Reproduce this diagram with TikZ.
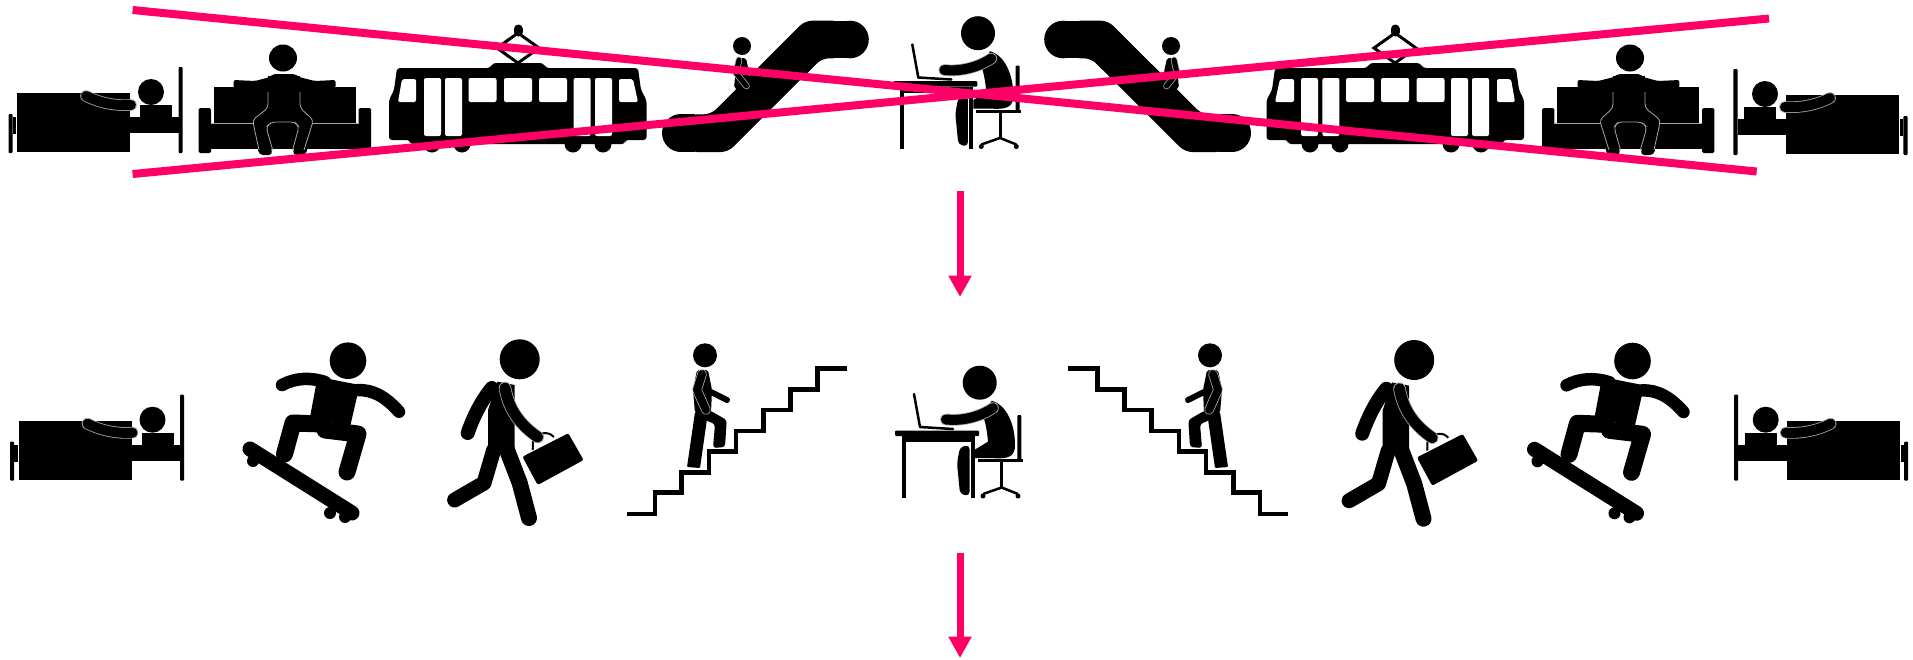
\documentclass[tikz,border=0pt]{standalone}
\usetikzlibrary{arrows.meta}
\definecolor{crosspink}{RGB}{255,0,102}
\tikzset{
	limb/.style={draw=black,line width=#1,line cap=round,line join=round},
	outlined/.style={draw=black!35,line width=0.8pt,double=black,double distance=#1,line cap=round,line join=round},
	seam/.style={draw=black!35,line width=0.8pt,rounded corners=4pt},
	crossline/.style={draw=crosspink,line width=8pt},
	downarrow/.style={draw=crosspink,line width=7pt,-{Triangle[length=21.5pt,width=22pt]}},
	hole/.style={fill=white,draw=none,rounded corners=2pt},
}
\newcommand{\bedshape}{
	\fill (17,93) rectangle (130,152);
	\fill[rounded corners=1pt] (8.5,114) rectangle (12.6,153);
	\fill (12.6,117) rectangle (16,134);
	\fill[rounded corners=1pt] (178.5,67) rectangle (182.7,153);
	\fill (130,117) rectangle (178.5,133);
	\fill (140,105) rectangle (172,117);
	\fill (151,92) circle (13);
	\draw[outlined=10pt] (86,96) .. controls (100,103) and (115,106) .. (131,105);
}
\newcommand{\sofashape}{
	\fill (214,87) rectangle (356,123);
	\fill[rounded corners=1.5pt] (198.6,108) rectangle (211,153);
	\fill[rounded corners=1.5pt] (358.6,108) rectangle (371,153);
	\fill (211,124) rectangle (358.6,149);
	\fill (283,58) ellipse [x radius=14,y radius=13.5];
	\fill[rounded corners=2pt] (233.6,88) -- (233.6,80) -- (255,81) -- (270,77) -- (273,74) -- (295,74) -- (299,77) -- (315,81) -- (335.5,80) -- (335.5,88) -- cycle;
	\fill (268,76) rectangle (300,124);
	\fill[rounded corners=4pt] (268,108) -- (252.5,120) -- (259,155) -- (272.7,155) -- (266,127) -- (271.5,122) -- (295,122) -- (299,127) -- (292.5,155) -- (306,155) -- (313.5,120) -- (300,108) -- cycle;
	\draw[seam] (268,92) -- (268,108) -- (252.5,120) -- (259,150) (272.7,150) -- (266,127) -- (271.5,122) -- (295,122) -- (299,127) -- (292.5,150) (304,150) -- (313.5,120) -- (300,108) -- (300,92);
	\draw[seam] (211,123.5) -- (254,123.5) (312,123.5) -- (358,123.5);
}
\newcommand{\tramshape}{
	\fill[rounded corners=3pt] (389,140) -- (389,100) -- (394,90) -- (397,68) -- (490,68) -- (493,63) -- (543,63) -- (546,68) -- (638,68) -- (641,90) -- (646.5,100) -- (646.5,140) -- (625,140) -- (625,144) -- (410,144) -- (410,140) -- cycle;
	\foreach \wheelx in {432,462,573,603}
		\fill (\wheelx,144) circle (8.5);
	\draw[line width=3pt] (518,33) -- (497,48) -- (518,63) -- (539,48) -- cycle;
	\draw[limb=9pt] (518,29) -- (518,32);
	\fill[hole] (402,79) -- (416,79) -- (416,102) -- (398,102) -- cycle;
	\fill[hole] (619,79) -- (633,79) -- (638,102) -- (619,102) -- cycle;
	\foreach \doorx in {424,445,573.6,595}
		\fill[hole] (\doorx,78) rectangle (\doorx+17,136);
	\foreach \windowx in {468.5,504,539}
		\fill[hole] (\windowx,78) rectangle (\windowx+28,102);
}
\newcommand{\escalatorshape}{
	\fill[rounded corners=7pt] (690,114.3) -- (711,114.3) -- (805,20.7) -- (840,20.7) -- (840,58.3) -- (822,58.3) -- (728,152) -- (690,152) -- cycle;
	\fill (850,39.5) circle (18.8);
	\fill (835,20.7) rectangle (850,58.3);
	\fill (681,133) circle (19);
	\fill (681,114) rectangle (695,152);
	\fill (742,46) circle (9);
	\fill[rounded corners=2pt] (737,58) -- (746,58) -- (749,72) -- (749,86) -- (739,90) -- (734,88) -- cycle;
	\draw[outlined=5pt] (739,60) -- (736,73) -- (746.5,86);
}
\newcommand{\deskshape}{
	\fill[rounded corners=1pt] (895,430.7) rectangle (979,436);
	\fill (902,436) rectangle (975,442);
	\fill (902,442) rectangle (906,498);
	\fill (970.5,442) rectangle (974.5,498);
	\draw[limb=2.5pt] (914,394) -- (920,427) -- (953,429);
	\fill (979.7,382.7) circle (17);
	\fill (991.7,400.7) .. controls (1007,405) and (1015,425) .. (1015,445) .. controls (1015,455) and (1010,458) .. (1000,458.3) -- (975,458) -- (975,449.5) -- (988,441.7) .. controls (987,430) and (985,420) .. (983,416.7) -- cycle;
	\draw[outlined=10pt] (946,419.5) .. controls (960,421) and (978,418) .. (993,408);
	\fill[rounded corners=4pt] (969.5,445) -- (960,447) -- (957,463) -- (960,494) -- (969.5,496) -- cycle;
	\fill[rounded corners=1pt] (1017.3,415) rectangle (1021.3,460);
	\fill (978,459) rectangle (1022.7,462.3);
	\draw[line width=3pt] (1001.7,462) -- (1001.7,487);
	\draw[line width=2.5pt] (983,494) -- (1001.7,487.5) -- (1018,494);
	\fill (983,496) circle (2.5);
	\fill (1018,496) circle (2.5);
}
\newcommand{\stairshape}{
	\draw[line width=4.5pt] (627,514) -| (655,492.7) -| (681.7,472.3) -| (709,451.7) -| (736,431) -| (763.3,410) -| (790.7,389.3) -| (817.7,368.3) -- (846.7,368.3);
	\fill (705,355.3) circle (12);
	\fill[rounded corners=2pt] (697,370) -- (708,370) -- (712,390) -- (711,413) -- (695,413) -- (693,390) -- cycle;
	\draw[limb=6pt] (711,392) -- (727,400);
	\fill[rounded corners=1pt] (695,412) -- (708,412) -- (700,468) -- (687,467) -- cycle;
	\fill[rounded corners=3pt] (704,410) -- (711,411) -- (726.7,420) -- (725,447) -- (713,448) -- (715,424) -- (705,420) -- cycle;
	\draw[outlined=8pt] (702,374) -- (697,390) -- (706,410);
}
\newcommand{\skatershape}{
	\fill (348,360.7) circle (18.3);
	\fill (317.6,376.7) -- (359.7,385) -- (350,427) -- (310,417) -- cycle;
	\draw[limb=12.5pt] (282,385) .. controls (295,378) and (310,377) .. (325,382);
	\draw[limb=12.5pt] (358,390) .. controls (372,390) and (384,395) .. (399,411.7);
	\draw[limb=17pt] (322,424) -- (293,423) -- (284.5,454);
	\draw[limb=17pt] (325,430) -- (358,434) -- (347,472);
	\draw[limb=15pt] (250,449) -- (352,513);
	\fill (253,461) circle (6);
	\fill (330,513) circle (6);
	\fill (345,517) circle (6);
}
\newcommand{\walkershape}{
	\fill (519.7,359.3) circle (20);
	\fill (497.5,381.7) -- (514.7,385) -- (514.5,452) -- (488,452) -- (488,410) -- cycle;
	\draw[limb=14pt] (491.8,388) .. controls (482,400) and (474,415) .. (467.7,433);
	\draw[limb=15pt] (493.7,450) -- (484,483) -- (454.6,500);
	\draw[limb=16pt] (507,450) -- (519.7,483) -- (529,518);
	\draw[line width=2pt] (532.7,450) -- (533,441) .. controls (536,433) and (548,430) .. (553.8,437);
	\fill[rounded corners=2pt] (522.4,456.7) -- (568.3,433.3) -- (583.6,460) -- (537.7,485) -- cycle;
	\draw[outlined=11pt] (505,388) .. controls (508,405) and (516,422) .. (537.7,437);
}
\begin{document}
\begin{tikzpicture}[x=1pt,y=-1pt]
	\useasboundingbox (0,0) rectangle (1913,659);
	% the outer ends of the two rows mirror about the middle of the page
	\foreach \flip/\offset/\bedx/\bedy/\lowbedx/\stairx in {1/0/0/0/1.5/0,-1/1913/-3/2/-3.7/-2} {
		\begin{scope}[shift={(\offset,0)},xscale=\flip]
			\begin{scope}[shift={(\bedx,\bedy)}]
				\bedshape
			\end{scope}
			\sofashape
			\tramshape
			\escalatorshape
			\begin{scope}[shift={(\lowbedx,327.7)}]
				\bedshape
			\end{scope}
			\begin{scope}[shift={(\stairx,0)}]
				\stairshape
			\end{scope}
		\end{scope}
	}
	% these two are not mirrored, only moved
	\skatershape
	\walkershape
	\begin{scope}[shift={(1284.5,0.3)}]
		\skatershape
	\end{scope}
	\begin{scope}[shift={(894.5,0.7)}]
		\walkershape
	\end{scope}
	\deskshape
	\begin{scope}[shift={(-1.7,-349.5)}]
		\deskshape
	\end{scope}
	% crossed out row
	\coordinate (crossAstart) at (132.6,10);
	\coordinate (crossAend) at (1756.7,171.5);
	\coordinate (crossBstart) at (132.6,174);
	\coordinate (crossBend) at (1769,18.5);
	\draw[crossline] (crossAstart) -- (crossAend);
	\draw[crossline] (crossBstart) -- (crossBend);
	% arrows
	\coordinate (arrowAtop) at (960,191);
	\coordinate (arrowAtip) at (960,297);
	\coordinate (arrowBtop) at (960,553);
	\coordinate (arrowBtip) at (960,658);
	\draw[downarrow] (arrowAtop) -- (arrowAtip);
	\draw[downarrow] (arrowBtop) -- (arrowBtip);
\end{tikzpicture}
\end{document}
